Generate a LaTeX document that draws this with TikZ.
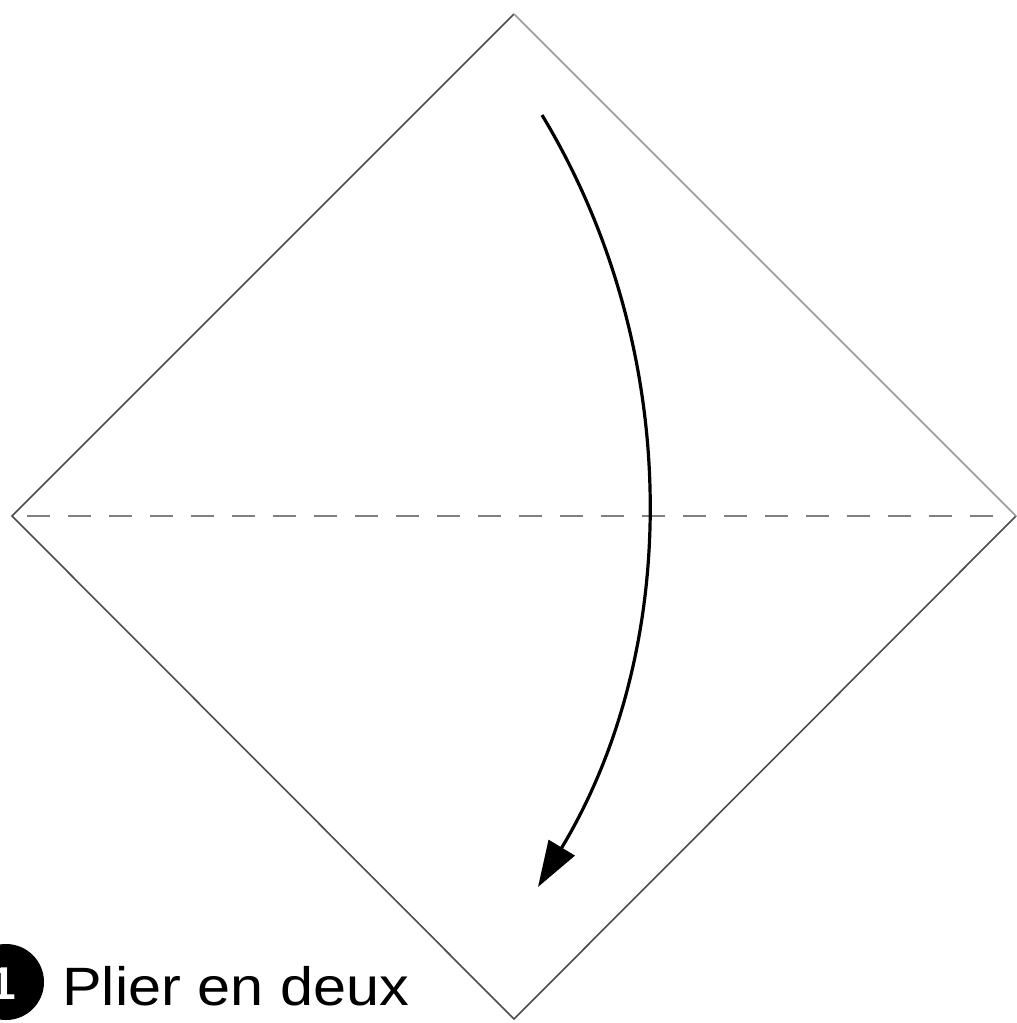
\documentclass[tikz,border=0pt]{standalone}
\usepackage{fontspec}
\setmainfont{Liberation Sans}
\usetikzlibrary{arrows.meta}
\begin{document}
\begin{tikzpicture}[x=1pt,y=-1pt,
  edge/.style={line width=1.6pt,draw=black!70},
  lightedge/.style={line width=1.6pt,draw=black!40},
  foldline/.style={line width=2pt,draw=black!50,dash pattern=on 23pt off 18pt},
  foldarrow/.style={line width=3.2pt,-{Triangle[length=46pt,width=30pt]}},
  label/.style={font=\fontsize{54}{60}\selectfont,anchor=base west,inner sep=0pt,xscale=1.1}]
\useasboundingbox (0,0) rectangle (1017,1023);
\fill[white] (0,0) rectangle (1017,1023);
\coordinate (top) at (514,14);
\coordinate (left) at (12,516);
\coordinate (right) at (1016,516);
\coordinate (bottom) at (514,1019);
\coordinate (astart) at (542,115);
\coordinate (aend) at (538,887);
\draw[edge] (right) -- (bottom) -- (left) -- (top);
\draw[lightedge] (top) -- (right);
\draw[foldline] (27,516) -- (1002,516);
\draw[foldarrow] (astart) .. controls (685,352) and (681,650) .. (aend);
\node[circle,fill=black,minimum size=76pt,inner sep=0pt] (num) at (6,982) {};
\node[text=white,font=\fontsize{46}{50}\selectfont\bfseries,inner sep=0pt,anchor=east] (numtext) at (16,984) {1};
\node[label] (cap) at (62,1005) {Plier en deux};
\end{tikzpicture}
\end{document}
